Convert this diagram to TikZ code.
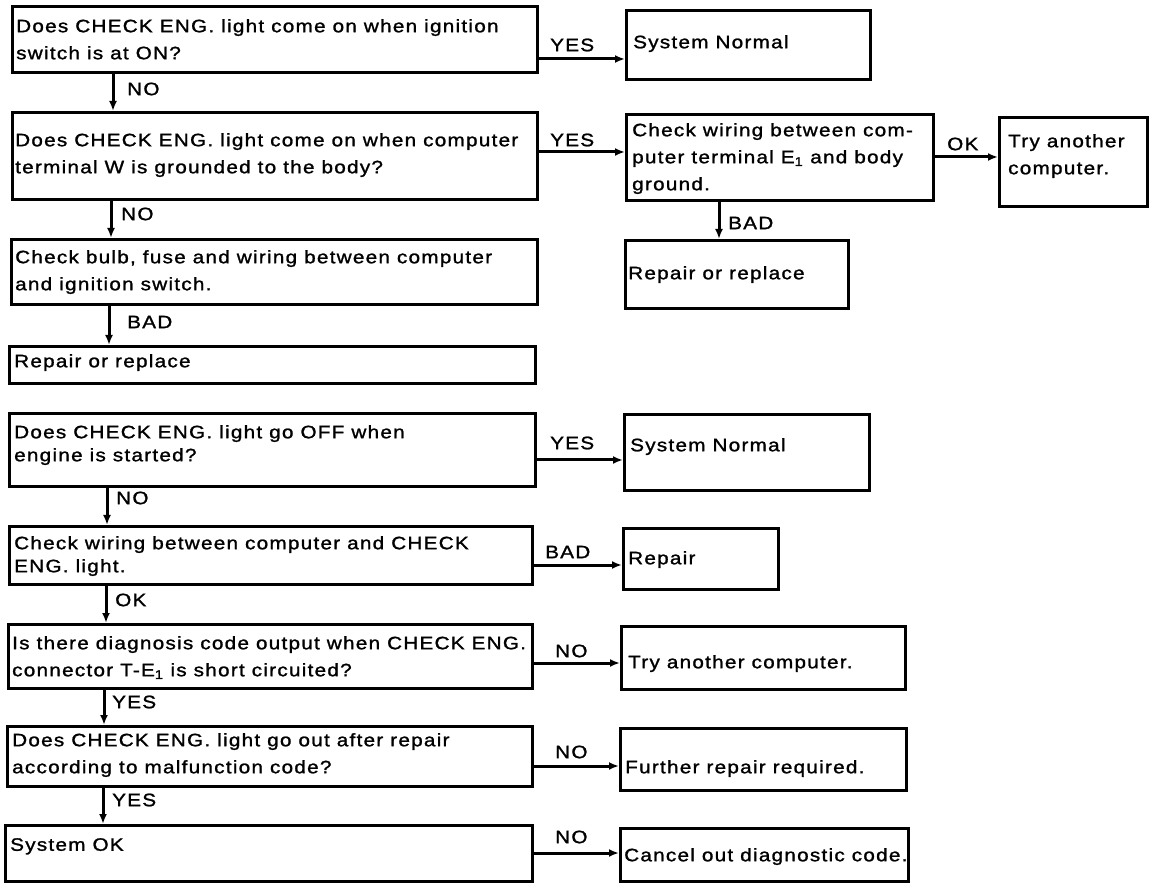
\documentclass[tikz,border=0pt]{standalone}
\usepackage{fontspec}
\setmainfont{Liberation Sans}[FakeStretch=1.15,LetterSpace=7,FakeBold=1.3]
\usetikzlibrary{arrows.meta}
\begin{document}
\begin{tikzpicture}[x=1pt,y=-1pt,
  box/.style={draw,line width=2.8pt,rectangle,inner sep=0pt,anchor=north west},
  txt/.style={inner sep=0pt,anchor=north west,align=left,font=\fontsize{18}{27}\selectfont},
  txtn/.style={txt,font=\fontsize{18}{23}\selectfont},
  lbl/.style={inner sep=0pt,anchor=west,font=\fontsize{18}{22}\selectfont},
  arr/.style={line width=3pt,-{Latex[length=10pt,width=8pt]}}]
\useasboundingbox[fill=white] (0,0) rectangle (1152,890);

% boxes
\node[box,minimum width=525,minimum height=66] (q1) at (11,5) {};
\node[box,minimum width=244,minimum height=69] (sn1) at (625,9) {};
\node[box,minimum width=525,minimum height=87] (q2) at (11,111) {};
\node[box,minimum width=307,minimum height=86] (cw) at (625,113) {};
\node[box,minimum width=148,minimum height=89] (ta1) at (998,116) {};
\node[box,minimum width=223,minimum height=68] (rr1) at (624,239) {};
\node[box,minimum width=526,minimum height=65] (cb) at (10,238) {};
\node[box,minimum width=526,minimum height=37] (rr2) at (8,345) {};
\node[box,minimum width=526,minimum height=73] (q3) at (8,412) {};
\node[box,minimum width=245,minimum height=76] (sn2) at (623,413) {};
\node[box,minimum width=523,minimum height=58] (cwce) at (8,525) {};
\node[box,minimum width=155,minimum height=61] (rp) at (622,527) {};
\node[box,minimum width=524,minimum height=64] (q4) at (7,623) {};
\node[box,minimum width=284,minimum height=63] (ta2) at (620,625) {};
\node[box,minimum width=525,minimum height=60] (q5) at (6,725) {};
\node[box,minimum width=286,minimum height=62] (fr) at (619,727) {};
\node[box,minimum width=527,minimum height=56] (sok) at (4,824) {};
\node[box,minimum width=288,minimum height=53] (can) at (619,827) {};

% texts
\node[txt] (q1t) at (16,19) {Does CHECK ENG. light come on when ignition\\switch is at ON?};
\node[txt] (sn1t) at (633,35) {System Normal};
\node[txt] (q2t) at (15,133) {Does CHECK ENG. light come on when computer\\terminal W is grounded to the body?};
\node[txt] (cwt) at (632,123) {Check wiring between com-\\puter terminal E\textsubscript{1} and body\\ground.};
\node[txt] (ta1t) at (1008,134) {Try another\\computer.};
\node[txt] (rr1t) at (628,266) {Repair or replace};
\node[txt] (cbt) at (15,250) {Check bulb, fuse and wiring between computer\\and ignition switch.};
\node[txt] (rr2t) at (14,354) {Repair or replace};
\node[txtn] (q3t) at (14,425) {Does CHECK ENG. light go OFF when\\engine is started?};
\node[txt] (sn2t) at (630,438) {System Normal};
\node[txtn] (cwcet) at (14,536) {Check wiring between computer and CHECK\\ENG. light.};
\node[txt] (rpt) at (628,551) {Repair};
\node[txt] (q4t) at (12,636) {Is there diagnosis code output when CHECK ENG.\\connector T-E\textsubscript{1} is short circuited?};
\node[txt] (ta2t) at (628,655) {Try another computer.};
\node[txt] (q5t) at (12,733) {Does CHECK ENG. light go out after repair\\according to malfunction code?};
\node[txt] (frt) at (625,760) {Further repair required.};
\node[txt] (sokt) at (10,838) {System OK};
\node[txt] (cant) at (624,848) {Cancel out diagnostic code.};

% connector rails
\coordinate (h1) at (0,59);
\coordinate (h2) at (0,152);
\coordinate (hk) at (0,157);
\coordinate (h3) at (0,460);
\coordinate (h4) at (0,565);
\coordinate (h5) at (0,663);
\coordinate (h6) at (0,766);
\coordinate (h7) at (0,853);
\coordinate (v1) at (113,0);
\coordinate (v2) at (111,0);
\coordinate (v3) at (109,0);
\coordinate (vb) at (719,0);
\coordinate (v4) at (107,0);
\coordinate (v5) at (106,0);
\coordinate (v6) at (104,0);
\coordinate (v7) at (103,0);

% connectors
\draw[arr] (q1.east |- h1) -- (sn1.west |- h1);
\draw[arr] (q2.east |- h2) -- (cw.west |- h2);
\draw[arr] (cw.east |- hk) -- (ta1.west |- hk);
\draw[arr] (cw.south -| vb) -- (rr1.north -| vb);
\draw[arr] (q1.south -| v1) -- (q2.north -| v1);
\draw[arr] (q2.south -| v2) -- (cb.north -| v2);
\draw[arr] (cb.south -| v3) -- (rr2.north -| v3);
\draw[arr] (q3.east |- h3) -- (sn2.west |- h3);
\draw[arr] (q3.south -| v4) -- (cwce.north -| v4);
\draw[arr] (cwce.east |- h4) -- (rp.west |- h4);
\draw[arr] (cwce.south -| v5) -- (q4.north -| v5);
\draw[arr] (q4.east |- h5) -- (ta2.west |- h5);
\draw[arr] (q4.south -| v6) -- (q5.north -| v6);
\draw[arr] (q5.east |- h6) -- (fr.west |- h6);
\draw[arr] (q5.south -| v7) -- (sok.north -| v7);
\draw[arr] (sok.east |- h7) -- (can.west |- h7);

% labels
\node[lbl] (l1) at (550,45) {YES};
\node[lbl] (l2) at (127,89) {NO};
\node[lbl] (l3) at (550,140) {YES};
\node[lbl] (l4) at (947,144) {OK};
\node[lbl] (l5) at (728,223) {BAD};
\node[lbl] (l6) at (121,214) {NO};
\node[lbl] (l7) at (127,322) {BAD};
\node[lbl] (l8) at (550,443) {YES};
\node[lbl] (l9) at (116,498) {NO};
\node[lbl] (l10) at (545,552) {BAD};
\node[lbl] (l11) at (115,600) {OK};
\node[lbl] (l12) at (555,651) {NO};
\node[lbl] (l13) at (112,702) {YES};
\node[lbl] (l14) at (555,752) {NO};
\node[lbl] (l15) at (112,800) {YES};
\node[lbl] (l16) at (555,837) {NO};
\end{tikzpicture}
\end{document}
